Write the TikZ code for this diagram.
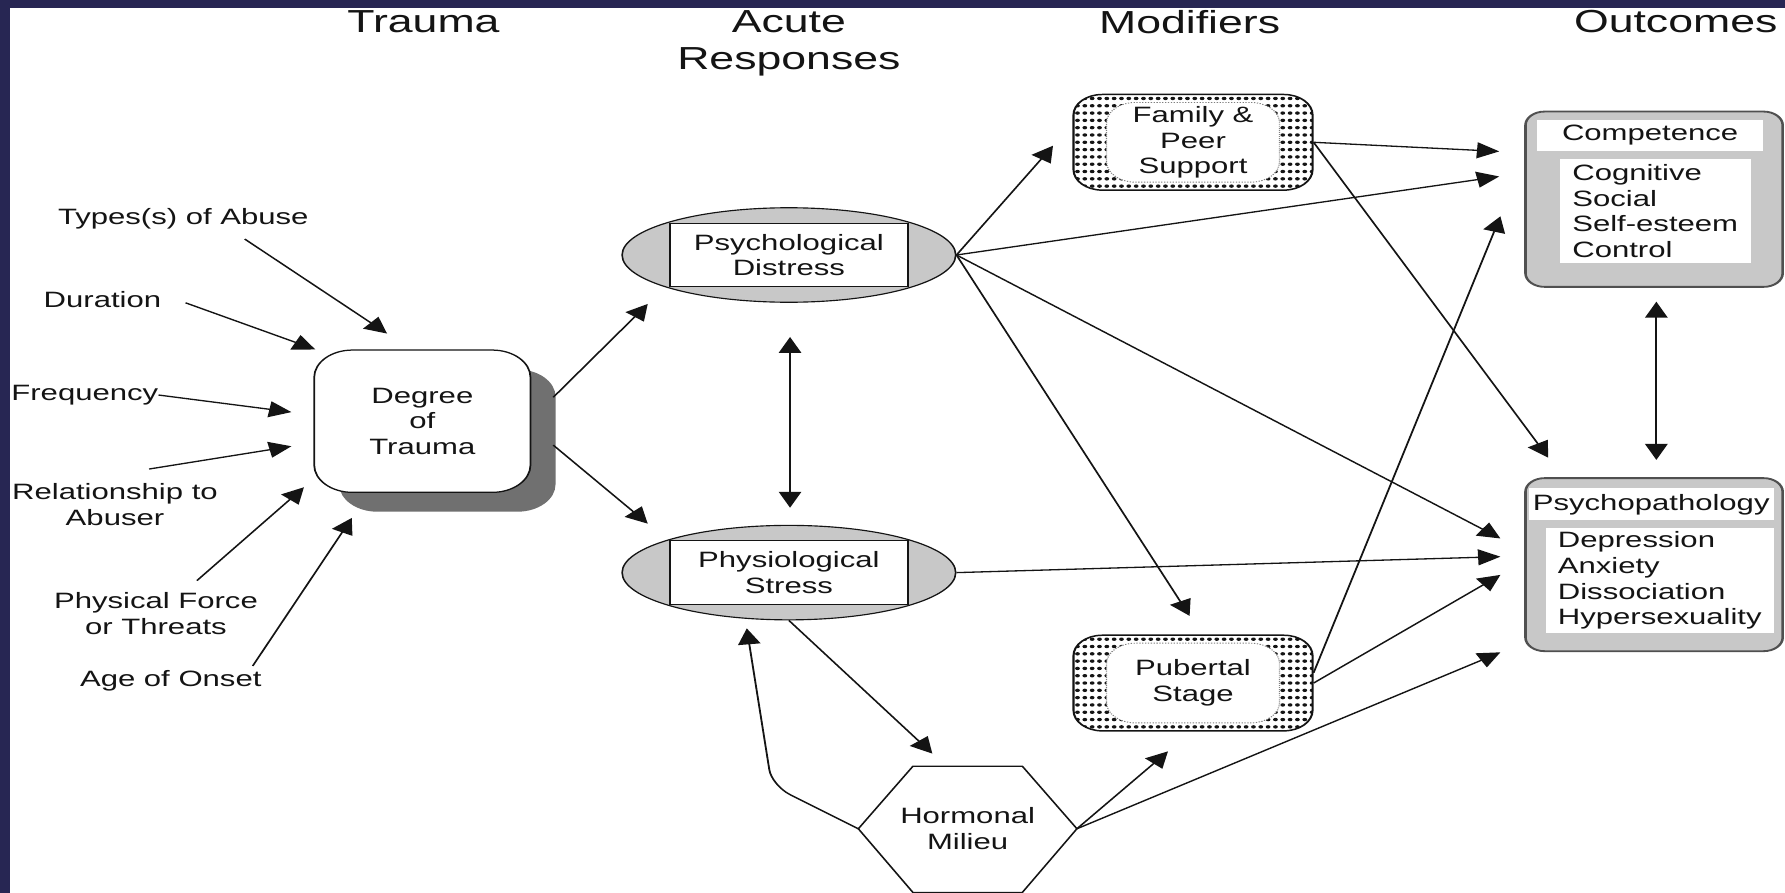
\documentclass[tikz,border=0pt]{standalone}
\usepackage{fontspec}
\setmainfont{Liberation Sans}
\usetikzlibrary{shapes.geometric,arrows.meta}

\definecolor{framecol}{RGB}{39,38,83}
\definecolor{fillgrey}{RGB}{200,200,200}
\definecolor{shadowgrey}{RGB}{112,112,112}
\definecolor{edgegrey}{RGB}{80,80,80}
\definecolor{ink}{RGB}{20,20,20}

\tikzset{
  body/.style={font=\fontsize{19.5}{22.5}\selectfont, align=center, inner sep=0pt, text=ink},
  head/.style={font=\fontsize{28}{33}\selectfont, align=center, inner sep=0pt, text=ink},
  tip/.style={-{Triangle[length=14pt,width=14pt]}},
  arr/.style={line width=1.15pt, draw=ink, tip},
  darr/.style={line width=1.15pt, draw=ink, {Triangle[length=14pt,width=14pt]}-{Triangle[length=14pt,width=14pt]}},
  roundbox/.style={draw=ink, line width=1.1pt, fill=white, rounded corners=24pt,
    minimum width=135.7pt, minimum height=125pt, body},
  shadowbox/.style={fill=shadowgrey, rounded corners=24pt,
    minimum width=135.7pt, minimum height=125pt, inner sep=0pt},
  oval/.style={ellipse, draw=ink, line width=1pt, fill=fillgrey,
    minimum width=209.3pt, minimum height=83pt, inner sep=0pt},
  ovaltext/.style={draw=ink, line width=1pt, fill=white,
    minimum width=149.3pt, minimum height=56pt, body},
  dotbox/.style={draw=ink, line width=1.3pt, rounded corners=18pt,
    minimum width=150pt, minimum height=84pt, body,
    path picture={
      \foreach \i in {0,...,32}{
        \foreach \j in {0,...,12}{
          \fill[ink] ([shift={(\i*4.6pt+2.5pt,\j*6.417pt+3.5pt)}]path picture bounding box.south west) circle[radius=1.5pt];
        }
      }
      \fill[white] ([shift={(20.7pt,7pt)}]path picture bounding box.south west)
        rectangle ([shift={(-20.7pt,-7pt)}]path picture bounding box.north east);
      \draw[gray, densely dotted, line width=0.8pt]
        ([shift={(20.7pt,7pt)}]path picture bounding box.south west)
        rectangle ([shift={(-20.7pt,-7pt)}]path picture bounding box.north east);
    }},
  outbox/.style={draw=edgegrey, line width=1.6pt, fill=fillgrey, rounded corners=12pt,
    minimum width=161.4pt, inner sep=0pt},
  band/.style={fill=white, inner sep=0pt, body},
}

\begin{document}
\begin{tikzpicture}[x=1pt,y=-1pt]
\useasboundingbox (0,0) rectangle (1568,784);
\fill[white] (0,0) rectangle (1568,784);

% the whole chart is set wide: drawn in narrow units, stretched by 1.4
\begin{scope}[x=0.714286pt, y=-1pt, transform canvas={xscale=1.4}]

  % column headings
  \node[head, anchor=north] (hTrauma) at (372,9) {Trauma};
  \node[head, anchor=north] (hAcute) at (693,9) {Acute\\Responses};
  \node[head, anchor=north] (hMod) at (1045,9) {Modifiers};
  \node[head, anchor=north] (hOut) at (1472,9) {Outcomes};

  % characteristics of the abuse
  \node[body] (types) at (161,192) {Types(s) of Abuse};
  \node[body] (dur) at (90,263) {Duration};
  \node[body] (freq) at (74.5,347) {Frequency};
  \node[body] (rel) at (101,443) {Relationship to\\Abuser};
  \node[body] (phys) at (137,539) {Physical Force\\or Threats};
  \node[body] (age) at (150,598) {Age of Onset};

  % degree of trauma with its drop shadow
  \node[shadowbox] (degShadow) at (393,387) {};
  \node[roundbox] (deg) at (371,370) {Degree\\of\\Trauma};

  % acute responses
  \node[oval] (psyD) at (693,224) {};
  \node[ovaltext] (psyDt) at (693,224) {Psychological\\Distress};
  \node[oval] (physS) at (693,503) {};
  \node[ovaltext] (physSt) at (693,503) {Physiological\\Stress};

  % modifiers
  \node[dotbox] (fam) at (1048,125) {Family \&\\Peer\\Support};
  \node[dotbox] (pub) at (1048,600) {Pubertal\\Stage};

  % hormonal milieu
  \coordinate (hxL) at (754,728);
  \coordinate (hxR) at (946,728);
  \draw[draw=ink, line width=1.1pt] (802,673) -- (898,673) -- (hxR) -- (898,784) -- (802,784) -- (hxL) -- cycle;
  \node[body] (horm) at (850,728) {Hormonal\\Milieu};

  % outcomes
  \node[outbox, minimum height=154pt] (comp) at (1453,175) {};
  \node[band, minimum width=142.1pt, minimum height=28pt] (compT) at (1449.5,119) {Competence};
  \node[band, align=left, minimum width=120pt, minimum height=91pt] (compL) at (1454,185.5)
    {Cognitive\\Social\\Self-esteem\\Control};
  \node[outbox, minimum height=152pt] (psy) at (1453,496) {};
  \node[band, minimum width=153.6pt, minimum height=28pt] (psyT) at (1450.5,443) {Psychopathology};
  \node[band, align=left, minimum width=142.9pt, minimum height=92pt] (psyL) at (1458,510)
    {Depression\\Anxiety\\Dissociation\\Hypersexuality};

  % free ends of the connectors
  \coordinate (a1s) at (215,210); \coordinate (a1e) at (340,293);
  \coordinate (a2s) at (163,266); \coordinate (a2e) at (277,307);
  \coordinate (a3e) at (256,362);
  \coordinate (a4s) at (131,412); \coordinate (a4e) at (256,392);
  \coordinate (a5s) at (173,510); \coordinate (a5e) at (267,428);
  \coordinate (a6s) at (222,585); \coordinate (a6e) at (309,455);
  \coordinate (d1s) at (486,349); \coordinate (d1e) at (569,267);
  \coordinate (d2s) at (486,391); \coordinate (d2e) at (569,460);
  \coordinate (vTop) at (694,296); \coordinate (vBot) at (694,446);
  \coordinate (famIn) at (925,128);
  \coordinate (pubIn) at (1045,541);
  \coordinate (pubIn2) at (1026,660);
  \coordinate (hormIn) at (819,662);
  \coordinate (physIn) at (656,552);
  \coordinate (bend) at (678,690);
  \coordinate (c1) at (1317,133);
  \coordinate (c2) at (1317,155);
  \coordinate (c3) at (1318,190);
  \coordinate (p0) at (1360,402);
  \coordinate (p1) at (1318,473);
  \coordinate (p2) at (1318,489);
  \coordinate (p3) at (1318,505);
  \coordinate (p4) at (1318,573);
  \coordinate (oTop) at (1455,265); \coordinate (oBot) at (1455,404);

  % into the degree of trauma
  \draw[arr] (a1s) -- (a1e);
  \draw[arr] (a2s) -- (a2e);
  \draw[arr] (freq.east) -- (a3e);
  \draw[arr] (a4s) -- (a4e);
  \draw[arr] (a5s) -- (a5e);
  \draw[arr] (a6s) -- (a6e);

  % trauma to acute responses
  \draw[arr] (d1s) -- (d1e);
  \draw[arr] (d2s) -- (d2e);
  \draw[darr] (vTop) -- (vBot);

  % from psychological distress
  \draw[arr] (psyD.east) -- (famIn);
  \draw[arr] (psyD.east) -- (c2);
  \draw[arr] (psyD.east) -- (p1);
  \draw[arr] (psyD.east) -- (pubIn);

  % from physiological stress
  \draw[arr] (physS.east) -- (p2);
  \draw[arr] (physS.south) -- (hormIn);

  % from the hormonal milieu
  \draw[arr, rounded corners=14pt] (hxL) -- (bend) -- (physIn);
  \draw[arr] (hxR) -- (pubIn2);
  \draw[arr] (hxR) -- (p4);

  % from the modifiers
  \draw[arr] (fam.east) -- (c1);
  \draw[arr] (fam.east) -- (p0);
  \draw[arr] ([yshift=9pt]pub.east) -- (c3);
  \draw[arr] (pub.east) -- (p3);

  % between the outcomes
  \draw[darr] (oTop) -- (oBot);
\end{scope}

% dark frame along the top and left edges
\fill[framecol] (0,0) rectangle (1568,7);
\fill[framecol] (0,0) rectangle (9,784);
\end{tikzpicture}
\end{document}
